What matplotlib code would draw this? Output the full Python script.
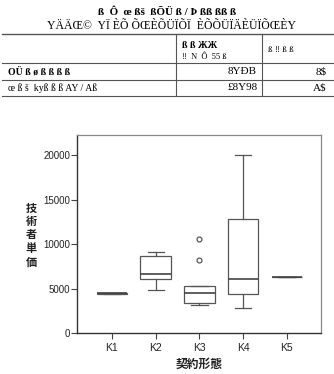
import matplotlib
matplotlib.use('Agg')
import matplotlib.pyplot as plt

# box plot data
groups = ['K1', 'K2', 'K3', 'K4', 'K5']
q1 = [4420, 6030, 3370, 4380, 6260]
med = [4460, 6660, 4490, 6030, 6260]
q3 = [4500, 8620, 5320, 12840, 6260]
whislo = [4420, 4830, 3150, 2770, 6260]
whishi = [4500, 9070, 5320, 20000, 6260]
fliers = [[], [], [8240, 10530], [], []]
yticks = [0, 5000, 10000, 15000, 20000]

# garbled table text (as in the picture)
title1 = 'ß  Ô  œ ßš  ßÕÜ ß / Þ ßß ßß ß'
title2 = 'YÄÄŒ©  YÏ ÈÕ ÕŒÈÕÜÏÕÏ  ÈÕÕÜÏÄÈÜÏÕŒÈY'
head2 = ['ß ß ЖЖ', '‼  N  Ô  55 ß']
head3 = 'ß ‼ ß ß'
row_labels = ['OÜ ß ø ß ß ß ß', 'œ ß š  kyß ß ß AY / Aß']
col2 = ['8YÐB', '£8Y98']
col3 = ['8$', 'A$']

plt.rcParams['font.family'] = ['Liberation Sans', 'DejaVu Sans']
fig = plt.figure(figsize=(3.34, 3.74), dpi=100)
W, H = 334, 374

def fx(px):
    return px / W

def fy(py):
    return 1 - py / H

serif = 'Liberation Serif'
fig.text(fx(167), fy(12), title1, ha='center', va='center', fontsize=8, family=serif, weight='bold')
fig.text(fx(172), fy(26), title2, ha='center', va='center', fontsize=8.5, family=serif)

# table lines
for py, lw in [(34, 1.0), (63, 0.8), (80, 0.8), (96, 0.8)]:
    fig.add_artist(plt.Line2D([fx(2), fx(334)], [fy(py), fy(py)], color='#555555', lw=lw))
for px in [176, 262]:
    fig.add_artist(plt.Line2D([fx(px), fx(px)], [fy(34), fy(96)], color='#555555', lw=0.8))

fig.text(fx(182), fy(45), head2[0], ha='left', va='center', fontsize=7, family=serif, weight='bold')
fig.text(fx(182), fy(57), head2[1], ha='left', va='center', fontsize=6, family=serif)
fig.text(fx(268), fy(50), head3, ha='left', va='center', fontsize=6.5, family=serif)
for i, py in enumerate([72, 88]):
    fig.text(fx(8), fy(py), row_labels[i], ha='left', va='center', fontsize=7, family=serif,
             weight='bold' if i == 0 else 'normal')
    fig.text(fx(257), fy(py), col2[i], ha='right', va='center', fontsize=8, family=serif)
    fig.text(fx(327), fy(py), col3[i], ha='right', va='center', fontsize=8, family=serif)

# box plot
ax = fig.add_axes([fx(77), fy(333), (321 - 77) / W, (333 - 135) / H])
stats = []
for i in range(len(groups)):
    stats.append({'label': groups[i], 'q1': q1[i], 'med': med[i], 'q3': q3[i],
                  'whislo': whislo[i], 'whishi': whishi[i], 'fliers': fliers[i]})
ax.bxp(stats, positions=range(1, 6), widths=0.7, patch_artist=True, showfliers=True,
       boxprops=dict(facecolor='white', edgecolor='#555555', lw=0.9),
       medianprops=dict(color='#444444', lw=1.2),
       whiskerprops=dict(color='#555555', lw=0.9),
       capprops=dict(color='#555555', lw=0.9),
       capwidths=0.37,
       flierprops=dict(marker='o', markersize=3.5, markerfacecolor='white',
                       markeredgecolor='#555555', markeredgewidth=0.9))

ax.set_xlim(0.2, 5.78)
ax.set_ylim(0, 22250)
ax.set_yticks(yticks)
ax.set_yticklabels([str(v) for v in yticks])
ax.set_xticks(range(1, 6))
ax.set_xticklabels(groups)
ax.tick_params(axis='both', labelsize=7, length=4, width=0.8, color='#444444', labelcolor='#222222', pad=1)
ax.tick_params(axis='x', labelsize=7.5, pad=3)
for s in ['left', 'bottom']:
    ax.spines[s].set_color('#333333')
    ax.spines[s].set_linewidth(1.0)
for s in ['top', 'right']:
    ax.spines[s].set_color('#888888')
    ax.spines[s].set_linewidth(0.9)

jp = ['Noto Sans CJK JP', 'DejaVu Sans']
fig.text(fx(31), fy(235), '技\n術\n者\n単\n価', ha='center', va='center', fontsize=8,
         family=jp, weight='bold', linespacing=1.05, color='#222222')
fig.text(fx(199), fy(364), '契約形態', ha='center', va='center', fontsize=8.5,
         family=jp, weight='bold', color='#222222')

fig.savefig('out.png', dpi=100)
